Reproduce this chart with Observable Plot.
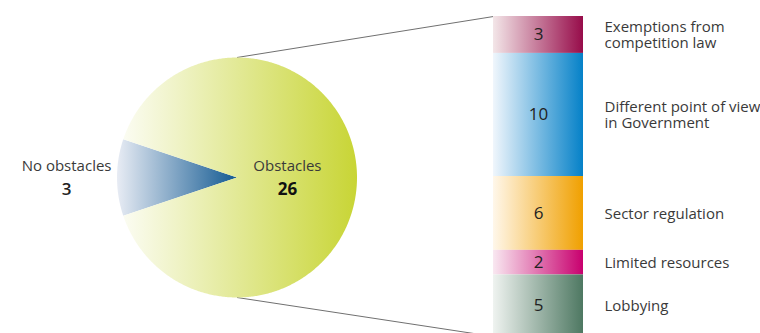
<!DOCTYPE html>
<html><head><meta charset="utf-8">
<script src="https://cdn.jsdelivr.net/npm/d3@7"></script>
<script src="https://cdn.jsdelivr.net/npm/@observablehq/plot@0.6"></script>
<style>
body{margin:0;background:#fff;}
#chart{position:relative;width:760px;height:333px;overflow:hidden;}
#chart svg{position:absolute;left:0;top:0;}
</style></head><body><div id="chart"></div>
<script>
// ---- data ----
const pieLabels = ["No obstacles", "Obstacles"];
const pieValues = [3, 26];
const barKeys = ["Exemptions", "Different", "Sector", "Limited", "Lobbying"];
const barLabels = ["Exemptions from\ncompetition law", "Different point of view\nin Government", "Sector regulation", "Limited resources", "Lobbying"];
const barValues = [3, 10, 6, 2, 5];

// ---- styles ----
const pieColors = [["#e8ecf4", "#135a92"], ["#fbfcf2", "#c8d535"]];
const barColors = [["#f3e6e8", "#970c4a"], ["#f0f6fc", "#0581c8"], ["#fff7ea", "#f0a000"], ["#f9e8f1", "#c8006e"], ["#eff3f0", "#4e7862"]];
const W = 760, H = 333;
const pieCx = 236.5, pieCy = 177, pieR = 120;
const pieLabelOffset = [-1.42, 0.42];
const barX0 = 493, barX1 = 583, barY0 = 16, barY1 = 336, labelX = 604;
const textColor = "#3a3a3a";
const font = "'Open Sans', sans-serif";

function addGradients(svg, prefix, colors) {
  const defs = d3.select(svg).insert("defs", ":first-child");
  colors.forEach(([c0, c1], i) => {
    const g = defs.append("linearGradient").attr("id", prefix + i)
      .attr("x1", 0).attr("x2", 1).attr("y1", 0).attr("y2", 0);
    g.append("stop").attr("offset", 0).attr("stop-color", c0);
    g.append("stop").attr("offset", 1).attr("stop-color", c1);
  });
}

// ---- pie ----
const pieData = pieLabels.map((label, i) => ({label, value: pieValues[i], i}));
const total = d3.sum(pieValues);
const half = Math.PI * pieValues[0] / total;
const arcs = d3.pie().value(d => d.value).sort(null)
  .startAngle(1.5 * Math.PI - half).endAngle(3.5 * Math.PI - half)(pieData);
const piePts = [];
arcs.forEach(a => {
  piePts.push({label: a.data.label, x: pieCx, y: pieCy});
  const n = Math.max(8, Math.ceil((a.endAngle - a.startAngle) / 0.01));
  for (let k = 0; k <= n; k++) {
    const t = a.startAngle + (a.endAngle - a.startAngle) * k / n;
    piePts.push({label: a.data.label, x: pieCx + pieR * Math.sin(t), y: pieCy - pieR * Math.cos(t)});
  }
});
const pieText = pieData.map(d => ({...d, x: pieCx + pieLabelOffset[d.i] * pieR, y: pieCy}));
const connectors = [
  {x1: pieCx, y1: pieCy - pieR, x2: barX0, y2: barY0},
  {x1: pieCx, y1: pieCy + pieR, x2: barX0, y2: barY1}
];

const piePlot = Plot.plot({
  width: W, height: H, margin: 0,
  style: {fontFamily: font, fontSize: "15px", background: "transparent"},
  x: {domain: [0, W], range: [0, W], axis: null},
  y: {domain: [0, H], range: [0, H], axis: null},
  color: {domain: pieLabels, range: pieLabels.map((_, i) => `url(#pg${i})`)},
  marks: [
    Plot.link(connectors, {x1: "x1", y1: "y1", x2: "x2", y2: "y2", stroke: "#707070", strokeWidth: 1}),
    Plot.line(piePts, {x: "x", y: "y", z: "label", fill: "label", stroke: "none"}),
    Plot.text(pieText, {x: "x", y: "y", text: "label", dy: -11, fill: textColor, fontSize: 15}),
    Plot.text(pieText.filter(d => d.i === 0), {x: "x", y: "y", text: d => String(d.value), dy: 12, fill: "#222", fontSize: 17, fontWeight: 600}),
    Plot.text(pieText.filter(d => d.i === 1), {x: "x", y: "y", text: d => String(d.value), dy: 12, fill: "#111", fontSize: 17, fontWeight: 700})
  ]
});
addGradients(piePlot, "pg", pieColors);

// ---- bar ----
const barData = barKeys.map((key, i) => ({key, label: barLabels[i], value: barValues[i]}));
const barPlot = Plot.plot({
  width: W, height: H, margin: 0,
  style: {fontFamily: font, fontSize: "15px", background: "transparent"},
  x: {type: "band", domain: ["Obstacles"], range: [barX0, barX1], padding: 0, axis: null},
  y: {domain: [0, total - pieValues[0]], range: [barY0, barY1], axis: null},
  color: {domain: barKeys, range: barKeys.map((_, i) => `url(#bg${i})`)},
  marks: [
    Plot.barY(barData, Plot.stackY({x: () => "Obstacles", y: "value", fill: "key"})),
    Plot.text(barData, Plot.stackY({x: () => "Obstacles", y: "value", text: d => String(d.value), fill: "#222", fontSize: 17, fontWeight: 500})),
    Plot.text(barData, Plot.stackY({x: () => "Obstacles", y: "value", text: "label", textAnchor: "start", dx: labelX - (barX0 + barX1) / 2, lineHeight: 1.1, fill: textColor, fontSize: 15}))
  ]
});
addGradients(barPlot, "bg", barColors);

const chart = document.getElementById("chart");
chart.appendChild(piePlot);
chart.appendChild(barPlot);
</script></body></html>
